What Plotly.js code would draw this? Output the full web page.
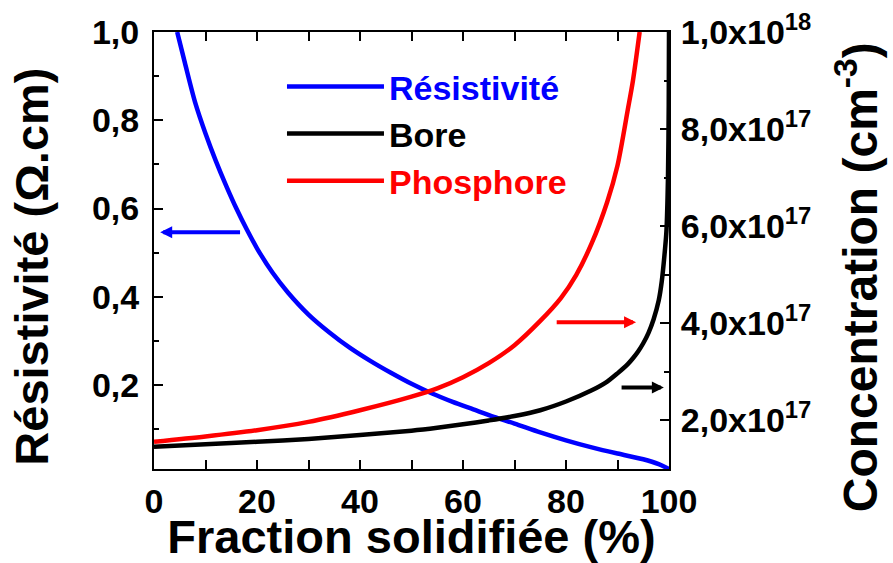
<!DOCTYPE html>
<html>
<head>
<meta charset="utf-8">
<script src="https://cdn.plot.ly/plotly-3.0.1.min.js"></script>
<style>html,body{margin:0;padding:0;background:#fff;}#chart{width:893px;height:563px;}</style>
</head>
<body>
<div id="chart"></div>
<script>
// Fraction solidifiée (%) and values
const fractionRes = [4.5, 6, 8, 10, 12, 14, 16, 18, 20, 23, 26, 30, 34, 38, 42, 46, 50, 54, 58, 62, 66, 70, 75, 80, 85, 90, 95, 98, 100];
const resistivite = [1.0, 0.93, 0.84, 0.77, 0.708, 0.652, 0.60, 0.553, 0.51, 0.455, 0.41, 0.36, 0.32, 0.285, 0.255, 0.228, 0.203, 0.181, 0.162, 0.145, 0.128, 0.113, 0.093, 0.075, 0.059, 0.045, 0.032, 0.021, 0.01];

const fractionBore = [0, 10, 20, 30, 40, 50, 55, 60, 65, 70, 75, 80, 85, 88, 90, 92, 93, 94, 95, 96, 97, 98, 98.6, 99.2, 99.5, 99.8, 99.95, 100];
const bore = [1.46e17, 1.51e17, 1.56e17, 1.62e17, 1.70e17, 1.79e17, 1.85e17, 1.92e17, 2.00e17, 2.09e17, 2.21e17, 2.39e17, 2.62e17, 2.80e17, 2.97e17, 3.16e17, 3.28e17, 3.42e17, 3.59e17, 3.80e17, 4.08e17, 4.47e17, 4.87e17, 5.5e17, 5.9e17, 7.0e17, 8.5e17, 1.0e18];

const fractionPhos = [0, 10, 20, 30, 40, 50, 55, 60, 65, 70, 75, 79, 82, 85, 88, 90, 92, 93, 94.3];
const phosphore = [1.56e17, 1.67e17, 1.80e17, 1.97e17, 2.21e17, 2.49e17, 2.66e17, 2.89e17, 3.18e17, 3.55e17, 4.05e17, 4.52e17, 5.0e17, 5.65e17, 6.5e17, 7.25e17, 8.4e17, 9.0e17, 1.0e18];

const xTickVals = [0, 20, 40, 60, 80, 100];
const yTickVals = [0.2, 0.4, 0.6, 0.8, 1.0];
const yTickText = ['0,2', '0,4', '0,6', '0,8', '1,0'];
const y2TickVals = [2e17, 4e17, 6e17, 8e17, 1e18];
const y2TickText = ['2,0x10<sup>17</sup>', '4,0x10<sup>17</sup>', '6,0x10<sup>17</sup>', '8,0x10<sup>17</sup>', '1,0x10<sup>18</sup>'];

const FONT = 'Liberation Sans, Arial, Helvetica, sans-serif';
const BLUE = '#0000ff', RED = '#ff0000', BLACK = '#000000';

const traces = [
  {x: fractionRes, y: resistivite, name: '<span style="color:#0000ff">Résistivité</span>', type: 'scatter', mode: 'lines',
   line: {color: BLUE, width: 4.5, shape: 'spline', smoothing: 0.8}, yaxis: 'y', cliponaxis: true},
  {x: fractionBore, y: bore, name: '<span style="color:#000000">Bore</span>', type: 'scatter', mode: 'lines',
   line: {color: BLACK, width: 4.5, shape: 'spline', smoothing: 0.8}, yaxis: 'y2', cliponaxis: true},
  {x: fractionPhos, y: phosphore, name: '<span style="color:#ff0000">Phosphore</span>', type: 'scatter', mode: 'lines',
   line: {color: RED, width: 4.5, shape: 'spline', smoothing: 0.8}, yaxis: 'y2', cliponaxis: true}
];

const tickFont = {family: FONT, size: 34, color: BLACK, weight: 'bold'};
const titleFont = {family: FONT, size: 47, color: BLACK, weight: 'bold'};

const layout = {
  width: 893, height: 563,
  margin: {l: 154, r: 224, t: 32, b: 94, pad: 0},
  paper_bgcolor: '#ffffff', plot_bgcolor: '#ffffff',
  font: {family: FONT, color: BLACK},
  showlegend: true,
  legend: {x: 0.2485, y: 0.941, xanchor: 'left', yanchor: 'top', bgcolor: 'rgba(0,0,0,0)',
           font: {family: FONT, size: 34, weight: 'bold'}, itemwidth: 97, tracegroupgap: 0},
  xaxis: {range: [0, 100], tickvals: xTickVals, ticks: 'inside', ticklen: 9, tickwidth: 2, tickcolor: BLACK,
          showline: true, linewidth: 2, linecolor: BLACK, mirror: 'allticks', showgrid: false, zeroline: false,
          minor: {dtick: 10, tick0: 0, ticks: 'inside', ticklen: 5, tickwidth: 2, tickcolor: BLACK, showgrid: false},
          tickfont: tickFont, ticklabelstandoff: 1,
          title: {text: 'Fraction solidifiée (%)', font: titleFont, standoff: 4}},
  yaxis: {range: [0.01, 1.0], tickvals: yTickVals, ticktext: yTickText, ticks: 'inside', ticklen: 9, tickwidth: 2, tickcolor: BLACK,
          showline: true, linewidth: 2, linecolor: BLACK, mirror: false, showgrid: false, zeroline: false,
          minor: {dtick: 0.1, tick0: 0, ticks: 'inside', ticklen: 5, tickwidth: 2, tickcolor: BLACK, showgrid: false},
          tickfont: tickFont, ticklabelstandoff: 6},
  yaxis2: {range: [1e17, 1e18], overlaying: 'y', side: 'right', tickvals: y2TickVals, ticktext: y2TickText,
          ticks: 'inside', ticklen: 9, tickwidth: 2, tickcolor: BLACK,
          showline: true, linewidth: 2, linecolor: BLACK, showgrid: false, zeroline: false,
          minor: {dtick: 1e17, tick0: 0, ticks: 'inside', ticklen: 5, tickwidth: 2, tickcolor: BLACK, showgrid: false},
          tickfont: tickFont, ticklabelstandoff: 3},
  annotations: [
    // axis titles for the two y axes
    {text: 'Résistivité (Ω.cm)', xref: 'paper', yref: 'paper', x: -0.238, y: 0.464, xanchor: 'center', yanchor: 'middle',
     textangle: -90, showarrow: false, font: titleFont},
    {text: 'Concentration (cm<sup>-3</sup>)', xref: 'paper', yref: 'paper', x: 1.364, y: 0.44, xanchor: 'center', yanchor: 'middle',
     textangle: -90, showarrow: false, font: {family: FONT, size: 48, color: BLACK, weight: 'bold'}},
    // arrows pointing to the axis of each curve
    {x: 1.2, y: 0.5465, xref: 'x', yref: 'y', ax: 17, ay: 0.5465, axref: 'x', ayref: 'y', text: '',
     showarrow: true, arrowhead: 2, arrowsize: 0.6, arrowwidth: 4, arrowcolor: BLUE},
    {x: 93.6, y: 4.02e17, xref: 'x', yref: 'y2', ax: 77.9, ay: 4.02e17, axref: 'x', ayref: 'y2', text: '',
     showarrow: true, arrowhead: 2, arrowsize: 0.6, arrowwidth: 4, arrowcolor: RED},
    {x: 99.0, y: 2.68e17, xref: 'x', yref: 'y2', ax: 90.5, ay: 2.68e17, axref: 'x', ayref: 'y2', text: '',
     showarrow: true, arrowhead: 2, arrowsize: 0.6, arrowwidth: 4, arrowcolor: BLACK}
  ]
};

Plotly.newPlot('chart', traces, layout, {displayModeBar: false, staticPlot: true});
</script>
</body>
</html>
